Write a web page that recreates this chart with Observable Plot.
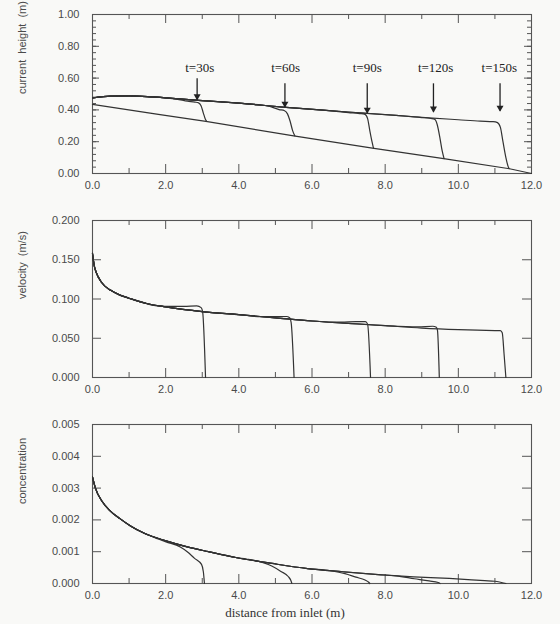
<!DOCTYPE html>
<html><head><meta charset="utf-8">
<script src="https://cdn.jsdelivr.net/npm/d3@7"></script>
<script src="https://cdn.jsdelivr.net/npm/@observablehq/plot@0.6"></script>
<style>
body{margin:0;background:#f9f9f7;}
#chart{width:560px;height:624px;}
#chart svg{display:block;}
</style></head><body><div id="chart"></div>
<script>
// ---------- shared ----------
const times = ["t=30s", "t=60s", "t=90s", "t=120s", "t=150s"];
const xMajor = [0, 2, 4, 6, 8, 10, 12];
const xMinor = [1, 3, 5, 7, 9, 11];

// ---------- panel 1: current height (m) ----------
const bedX = [0, 1.8, 3.1, 5.5, 7.65, 9.6, 11.4, 12];
const bedY = [0.435, 0.372, 0.328, 0.237, 0.16, 0.093, 0.03, 0.0];
const hEnvX = [0, 0.5, 1.0, 1.5, 2.0, 2.8, 4.0, 5.2, 6.3, 7.4, 8.3, 9.2, 10.0, 11.0];
const hEnvY = [0.475, 0.487, 0.488, 0.484, 0.476, 0.462, 0.442, 0.418, 0.398, 0.38, 0.365, 0.35, 0.338, 0.326];
const hTailX = [
  [2.3, 2.6, 2.8, 2.9, 2.97, 3.03, 3.08, 3.12],
  [4.8, 5.1, 5.25, 5.33, 5.4, 5.47, 5.53],
  [7.0, 7.3, 7.45, 7.52, 7.58, 7.64, 7.68],
  [9.0, 9.25, 9.36, 9.42, 9.5, 9.56, 9.61],
  [10.6, 10.95, 11.07, 11.15, 11.22, 11.3, 11.36, 11.39]
];
const hTailY = [
  [0.468, 0.455, 0.449, 0.444, 0.425, 0.38, 0.345, 0.328],
  [0.425, 0.402, 0.395, 0.375, 0.33, 0.27, 0.237],
  [0.383, 0.377, 0.372, 0.345, 0.27, 0.2, 0.16],
  [0.352, 0.346, 0.34, 0.31, 0.22, 0.14, 0.094],
  [0.329, 0.326, 0.32, 0.29, 0.2, 0.1, 0.045, 0.03]
];
const arrowX = [2.86, 5.26, 7.51, 9.32, 11.14];
const arrowTop = [0.596, 0.564, 0.564, 0.564, 0.564];
const arrowTip = [0.463, 0.417, 0.379, 0.386, 0.392];
const labelX = [2.93, 5.28, 7.51, 9.38, 11.12];
const labelY = 0.665;
const hTicks = [0, 0.2, 0.4, 0.6, 0.8, 1.0];
const hMinor = d3.range(0, 25).map(i => i * 0.04);

// ---------- panel 2: velocity (m/s) ----------
const vEnvX = [0, 0.05, 0.1, 0.25, 0.5, 0.75, 1.0, 1.5, 2.0, 3.0, 4.0, 5.0, 6.0, 7.0, 8.0, 9.0, 10.0, 11.0];
const vEnvY = [0.158, 0.142, 0.134, 0.121, 0.111, 0.105, 0.101, 0.094, 0.090, 0.084, 0.080, 0.076, 0.072, 0.069, 0.066, 0.063, 0.061, 0.0598];
const vTailX = [
  [1.6, 2.0, 2.5, 2.85, 2.97, 3.01, 3.09],
  [4.6, 5.0, 5.3, 5.39, 5.43, 5.51],
  [6.8, 7.2, 7.46, 7.52, 7.6],
  [8.9, 9.3, 9.4, 9.43, 9.48],
  [11.0, 11.15, 11.2, 11.25, 11.3]
];
const vTailY = [
  [0.0925, 0.0905, 0.0905, 0.0912, 0.089, 0.084, 0.0],
  [0.0775, 0.0775, 0.0777, 0.076, 0.07, 0.0],
  [0.0705, 0.0712, 0.0712, 0.068, 0.0],
  [0.0645, 0.0653, 0.064, 0.06, 0.0],
  [0.0598, 0.0597, 0.057, 0.03, 0.0]
];
const vTicks = [0, 0.05, 0.1, 0.15, 0.2];

// ---------- panel 3: concentration ----------
const cEnvX = [0, 0.08, 0.27, 0.46, 0.75, 1.04, 1.43, 2.01, 2.59, 3.17, 3.95, 4.91, 5.88, 6.85, 7.81, 8.78, 9.75, 10.72, 11.0, 11.3];
const cEnvY = [0.00335, 0.0030, 0.00257, 0.00231, 0.00204, 0.00181, 0.00157, 0.00134, 0.00115, 0.00100, 0.00081, 0.00063, 0.00047, 0.00037, 0.00028, 0.00021, 0.00016, 0.00009, 0.00007, 0.0];
const cTailX = [
  [1.8, 2.01, 2.4, 2.59, 2.79, 2.98, 3.03, 3.06],
  [4.2, 4.6, 4.9, 5.15, 5.35, 5.42, 5.45],
  [6.5, 6.9, 7.2, 7.45, 7.55, 7.58],
  [8.3, 8.8, 9.2, 9.45, 9.5],
  []
];
const cTailY = [
  [0.00140, 0.00131, 0.00115, 0.00100, 0.00079, 0.0006, 0.00037, 0.0],
  [0.00077, 0.00068, 0.00055, 0.00038, 0.00022, 0.0001, 0.0],
  [0.0004, 0.00031, 0.0002, 0.00011, 0.00004, 0.0],
  [0.00024, 0.00015, 0.00008, 0.00003, 0.0],
  []
];
const cTicks = [0, 0.001, 0.002, 0.003, 0.004, 0.005];

// ---------- helpers ----------
function buildSeries(envX, envY, tailX, tailY) {
  const rows = [];
  times.forEach((t, i) => {
    const start = tailX[i].length ? tailX[i][0] : Infinity;
    envX.forEach((x, j) => { if (x < start) rows.push({t, x, y: envY[j]}); });
    tailX[i].forEach((x, j) => rows.push({t, x, y: tailY[i][j]}));
  });
  return rows;
}

const W = 560, ML = 92, MR = 29, IW = W - ML - MR;
const ink = "#333", axisInk = "#555";

function panel({height, mt, mb, domain, yTicks, yFmt, yMinor, yMaj, label, rows, extra = []}) {
  const IH = height - mt - mb;
  const tickMarks = [
    Plot.tickX(xMajor, {x: d => d, insetTop: IH - 9, stroke: axisInk}),
    Plot.tickX(xMinor, {x: d => d, insetTop: IH - 5, stroke: axisInk}),
    Plot.tickX(xMajor, {x: d => d, insetBottom: IH - 9, stroke: axisInk}),
    Plot.tickX(xMinor, {x: d => d, insetBottom: IH - 5, stroke: axisInk}),
    Plot.tickY(yTicks, {y: d => d, insetRight: IW - yMaj, stroke: axisInk}),
    Plot.tickY(yTicks, {y: d => d, insetLeft: IW - yMaj, stroke: axisInk})
  ];
  if (yMinor) {
    tickMarks.push(Plot.tickY(yMinor, {y: d => d, insetRight: IW - 4, stroke: axisInk}));
    tickMarks.push(Plot.tickY(yMinor, {y: d => d, insetLeft: IW - 4, stroke: axisInk}));
  }
  return Plot.plot({
    width: W, height, marginLeft: ML, marginRight: MR, marginTop: mt, marginBottom: mb,
    x: {domain: [0, 12]},
    y: {domain},
    style: {background: "transparent", fontFamily: "'Liberation Sans', sans-serif", fontSize: "11px", color: "#4a4a4a"},
    marks: [
      Plot.frame({stroke: axisInk, strokeWidth: 1.1}),
      Plot.axisX(xMajor, {tickSize: 0, tickPadding: 8, tickFormat: d => d.toFixed(1), label: null}),
      Plot.axisY(yTicks, {tickSize: 0, tickPadding: 13, tickFormat: yFmt, label: null}),
      ...tickMarks,
      Plot.line(rows, {x: "x", y: "y", z: "t", stroke: ink, strokeWidth: 1.2, curve: "monotone-x"}),
      Plot.text([label], {frameAnchor: "left", dx: -70, rotate: -90, text: d => d, fill: "#4a4a4a", fontSize: 11}),
      ...extra
    ]
  });
}

// ---------- panel 1 ----------
const hRows = buildSeries(hEnvX, hEnvY, hTailX, hTailY);
const bedRows = bedX.map((x, i) => ({x, y: bedY[i]}));
const arrows = times.map((t, i) => ({t, x: arrowX[i], y1: arrowTop[i], y2: arrowTip[i], lx: labelX[i]}));
const p1 = panel({
  height: 200, mt: 14, mb: 27, domain: [0, 1], yTicks: hTicks, yFmt: d => d.toFixed(2),
  yMinor: hMinor, yMaj: 7, label: "current  height  (m)", rows: hRows,
  extra: [
    Plot.line(bedRows, {x: "x", y: "y", stroke: ink, strokeWidth: 1.2}),
    Plot.ruleX(arrows, {x: "x", y1: "y1", y2: "y2", stroke: "#222", strokeWidth: 1.3}),
    Plot.dot(arrows, {x: "x", y: "y2", symbol: "triangle", rotate: 180, r: 2.6, dy: -3.5, fill: "#222", stroke: "none"}),
    Plot.text(arrows, {x: "lx", y: () => labelY, text: "t", fontFamily: "'Liberation Serif', serif", fontSize: 13, fill: "#222"})
  ]
});

// ---------- panel 2 ----------
const vRows = buildSeries(vEnvX, vEnvY, vTailX, vTailY);
const p2 = panel({
  height: 205, mt: 20, mb: 28, domain: [0, 0.2], yTicks: vTicks, yFmt: d => d.toFixed(3),
  yMaj: 9, label: "velocity  (m/s)", rows: vRows
});

// ---------- panel 3 ----------
const cRows = buildSeries(cEnvX, cEnvY, cTailX, cTailY);
const p3 = panel({
  height: 219, mt: 19, mb: 41, domain: [0, 0.005], yTicks: cTicks, yFmt: d => d.toFixed(3),
  yMaj: 9, label: "concentration", rows: cRows,
  extra: [
    Plot.text(["distance from inlet (m)"], {frameAnchor: "bottom", dx: -27, dy: 33, text: d => d, fontFamily: "'Liberation Serif', serif", fontSize: 13, fill: "#333"})
  ]
});

const chart = document.getElementById("chart");
chart.append(p1, p2, p3);
</script>
</body></html>
